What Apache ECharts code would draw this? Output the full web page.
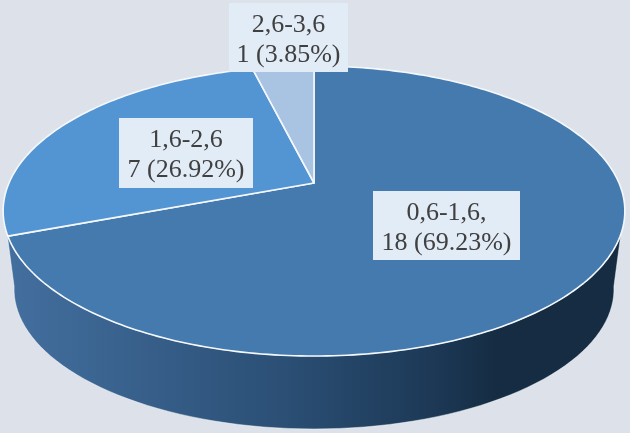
<!DOCTYPE html>
<html>
<head>
<meta charset="utf-8">
<style>
  html, body { margin: 0; padding: 0; background: #dde2ea; }
  #main { width: 630px; height: 433px; }
</style>
<script src="https://cdn.jsdelivr.net/npm/echarts@6/dist/echarts.min.js"></script>
</head>
<body>
<div id="main"></div>
<script>
const categories = ['0,6-1,6,', '1,6-2,6', '2,6-3,6'];
const counts = [18, 7, 1];
const percents = ['69.23%', '26.92%', '3.85%'];

const sliceColors = ['#457aae', '#5394d3', '#a9c3e3'];
const labelBoxes = [[373, 191, 147, 69], [119, 118, 134, 70], [229, 3, 119, 69]];

// pie seen in perspective: circle -> screen
const apexX = 314, apexY = 183;
const radiusX = 305, radiusY = 139.6, tilt = 0.1931;
const wallScale = 0.965, wallY = 262;

const total = counts.reduce((a, b) => a + b, 0);

function rim(deg) {
  const rad = deg * Math.PI / 180;
  const u = Math.sin(rad), v = -Math.cos(rad);
  const w = 1 - tilt * v;
  return [radiusX * u / w, radiusY * v / w];
}

function renderWall() {
  const points = [];
  // bottom rim left to right, then back along the top rim (hidden by the top face)
  for (let d = 260; d >= 100; d -= 2) {
    const p = rim(d);
    points.push([apexX + p[0] * wallScale, wallY + p[1] * wallScale]);
  }
  for (let d = 110; d <= 250; d += 2) {
    const p = rim(d);
    points.push([apexX + p[0], apexY + p[1]]);
  }
  return {
    type: 'polygon',
    shape: { points: points },
    style: {
      fill: new echarts.graphic.LinearGradient(0, 0, 1, 0, [
        { offset: 0, color: '#436f9f' },
        { offset: 0.45, color: '#2b4f75' },
        { offset: 0.7, color: '#1c3855' },
        { offset: 0.8, color: '#152c42' },
        { offset: 1, color: '#152c42' }
      ]),
      stroke: 'rgba(255,255,255,0.45)',
      lineWidth: 1
    }
  };
}

function renderSlice(params, api) {
  const i = params.dataIndex;
  const before = counts.slice(0, i).reduce((a, b) => a + b, 0);
  const start = before / total * 360;
  const end = start + api.value(0) / total * 360;
  const points = [[apexX, apexY]];
  for (let d = start; d < end; d += 1) {
    const p = rim(d);
    points.push([apexX + p[0], apexY + p[1]]);
  }
  const last = rim(end);
  points.push([apexX + last[0], apexY + last[1]]);
  const box = labelBoxes[i];
  return {
    type: 'group',
    children: [
      {
        type: 'polygon',
        shape: { points: points },
        style: { fill: sliceColors[i], stroke: '#f4f8fc', lineWidth: 1.6, lineJoin: 'round' }
      },
      {
        type: 'rect',
        z2: 10,
        shape: { x: box[0], y: box[1], width: box[2], height: box[3] },
        style: { fill: '#e2ecf7' }
      },
      {
        type: 'text',
        z2: 11,
        x: box[0] + box[2] / 2,
        y: box[1] + box[3] / 2 + 2.5, // text sits a little low in the box
        style: {
          text: categories[i] + '\n' + api.value(0) + ' (' + percents[i] + ')',
          font: '26px "Liberation Serif", serif',
          fill: '#404040',
          align: 'center',
          verticalAlign: 'middle',
          lineHeight: 30
        }
      }
    ]
  };
}

const chart = echarts.init(document.getElementById('main'));
chart.setOption({
  animation: false,
  backgroundColor: '#dde2ea',
  series: [
    {
      type: 'custom',
      coordinateSystem: 'none',
      silent: true,
      z: 1,
      data: [total],
      renderItem: renderWall
    },
    {
      type: 'custom',
      coordinateSystem: 'none',
      silent: true,
      z: 2,
      data: counts,
      renderItem: renderSlice
    }
  ]
});
</script>
</body>
</html>
